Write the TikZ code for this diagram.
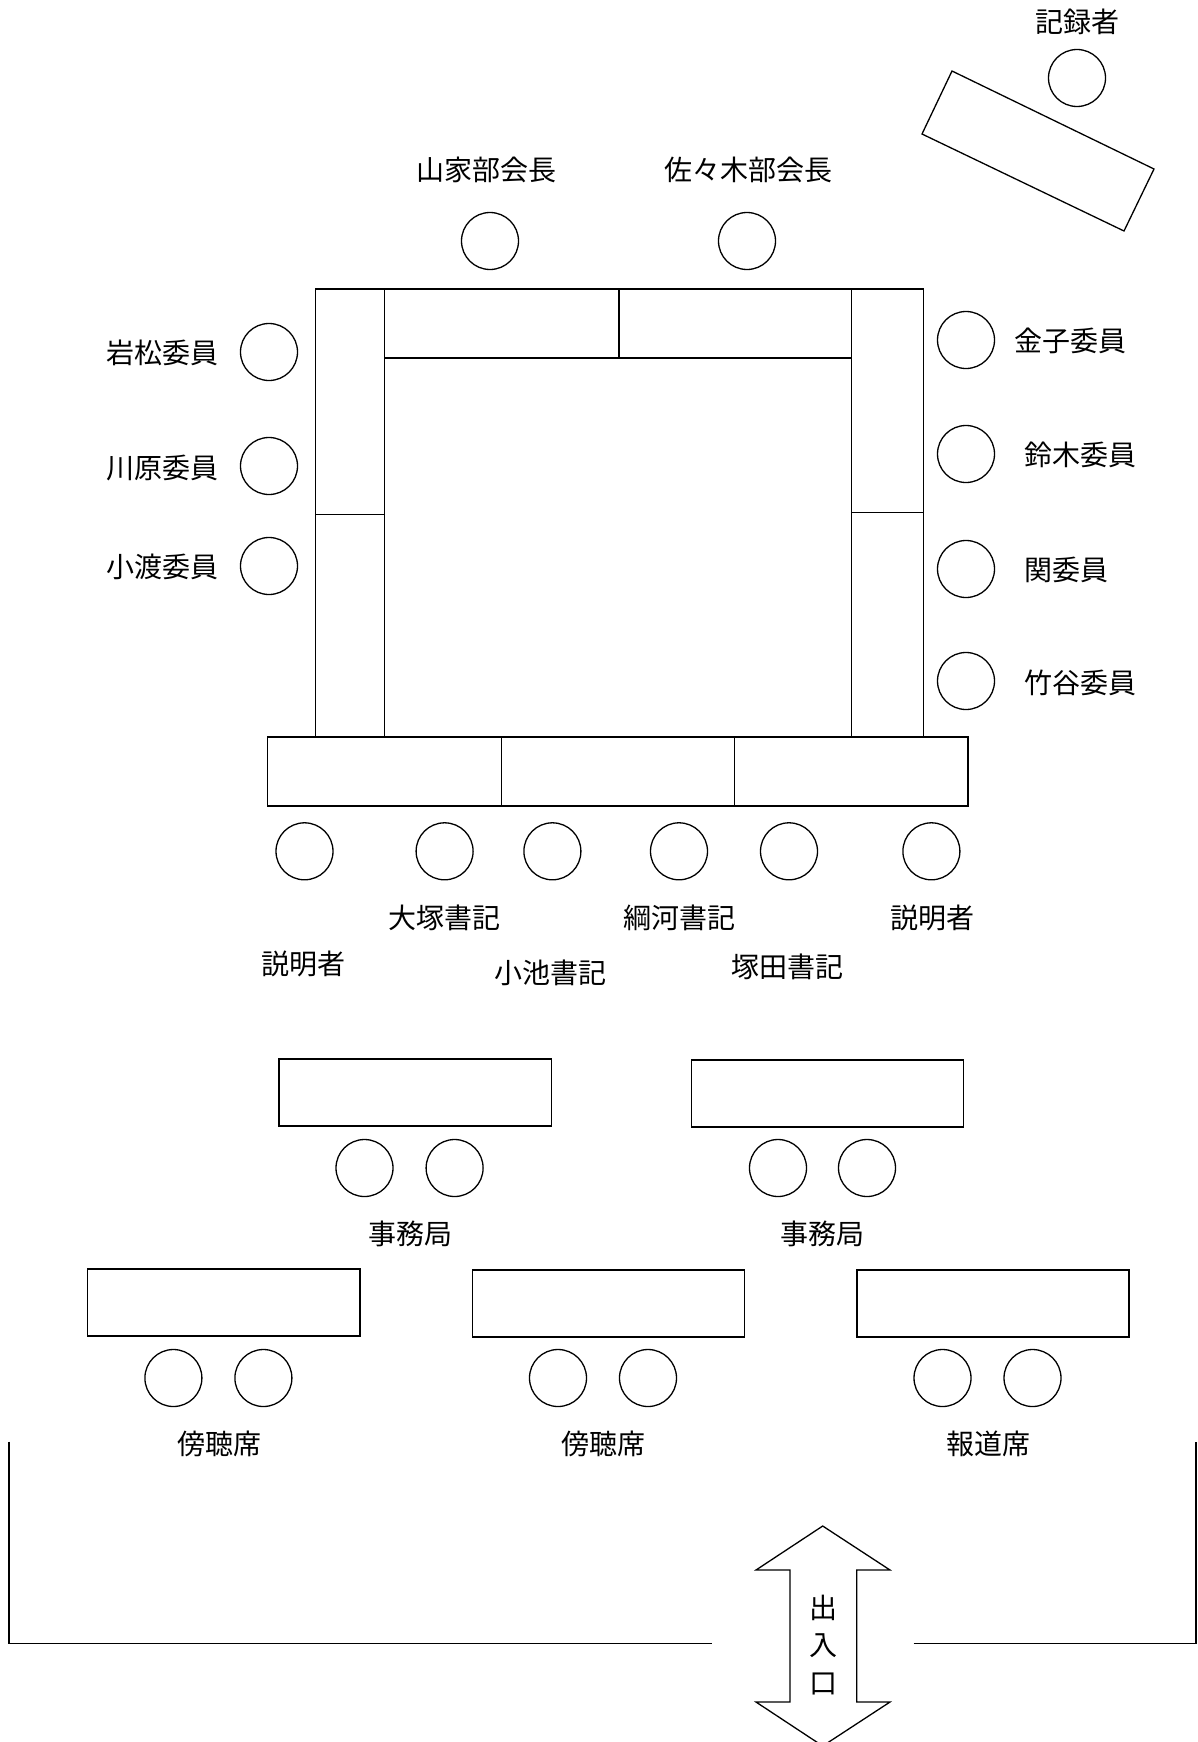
\documentclass[tikz,border=0pt]{standalone}
\usepackage{fontspec}
\setmainfont{Noto Sans CJK JP}
\begin{document}
\begin{tikzpicture}[x=1pt,y=-1pt,line width=1.3pt,
  seat/.style={draw,circle,minimum size=57pt,inner sep=0pt},
  lbl/.style={font=\fontsize{28}{32}\selectfont,inner sep=0pt},
  desk/.style={draw}]
\useasboundingbox (0,0) rectangle (1197,1742);
% recorder
\node[lbl] (rec) at (1077,22) {記録者};
\node[seat] (recs) at (1077,78) {};
\draw (952,71) -- (1154,169) -- (1124,231) -- (922,134) -- cycle;
% main table
\draw[desk] (315.6,289) rectangle (923.6,737);
\draw (384.6,289) -- (384.6,737);
\draw (851.3,289) -- (851.3,737);
\draw (384.6,358) -- (851.3,358);
\draw (619,289) -- (619,358);
\draw (315.6,514.6) -- (384.6,514.6);
\draw (851.3,512.4) -- (923.6,512.4);
\draw[desk] (267.8,737) rectangle (968,806);
\draw (501.2,737) -- (501.2,806);
\draw (734.6,737) -- (734.6,806);
% top seats
\node[lbl] (yl) at (486,170) {山家部会長};
\node[seat] (ys) at (490,241) {};
\node[lbl] (sl) at (748,170) {佐々木部会長};
\node[seat] (ss) at (747,241) {};
% left seats
\node[seat] (l1) at (269,352) {};
\node[seat] (l2) at (269,466) {};
\node[seat] (l3) at (269,566) {};
\node[lbl] (l1t) at (162,353) {岩松委員};
\node[lbl] (l2t) at (162,468) {川原委員};
\node[lbl] (l3t) at (162,567) {小渡委員};
% right seats
\node[seat] (r1) at (966,340) {};
\node[seat] (r2) at (966,454) {};
\node[seat] (r3) at (966,569) {};
\node[seat] (r4) at (966,681) {};
\node[lbl] (r1t) at (1070,341) {金子委員};
\node[lbl] (r2t) at (1080,455) {鈴木委員};
\node[lbl] (r3t) at (1066,570) {関委員};
\node[lbl] (r4t) at (1080,683) {竹谷委員};
% front seats
\node[seat] (f1) at (304.5,851.3) {};
\node[seat] (f2) at (444.6,851.3) {};
\node[seat] (f3) at (552.4,851.3) {};
\node[seat] (f4) at (679,851.3) {};
\node[seat] (f5) at (789,851.3) {};
\node[seat] (f6) at (931.4,851.3) {};
\node[lbl] (f2t) at (444.6,918) {大塚書記};
\node[lbl] (f4t) at (679,918) {綱河書記};
\node[lbl] (f6t) at (932.5,918) {説明者};
\node[lbl] (f1t) at (303.4,964) {説明者};
\node[lbl] (f3t) at (550,973) {小池書記};
\node[lbl] (f5t) at (787,967) {塚田書記};
% office
\draw[desk] (279,1059) rectangle (551.3,1126);
\draw[desk] (691.3,1060) rectangle (963.6,1127);
\node[seat] (o1) at (364.5,1168) {};
\node[seat] (o2) at (454.6,1168) {};
\node[seat] (o3) at (778,1168) {};
\node[seat] (o4) at (867,1168) {};
\node[lbl] (o1t) at (410,1234) {事務局};
\node[lbl] (o2t) at (822.4,1234) {事務局};
% gallery
\draw[desk] (87.8,1269) rectangle (360,1336);
\draw[desk] (472.3,1270) rectangle (744.6,1337);
\draw[desk] (857,1270) rectangle (1129,1337);
\node[seat] (g1) at (173.4,1378) {};
\node[seat] (g2) at (263.4,1378) {};
\node[seat] (g3) at (558,1378) {};
\node[seat] (g4) at (648,1378) {};
\node[seat] (g5) at (942.5,1378) {};
\node[seat] (g6) at (1032.5,1378) {};
\node[lbl] (g1t) at (219,1444) {傍聴席};
\node[lbl] (g2t) at (603.5,1444) {傍聴席};
\node[lbl] (g3t) at (988,1444) {報道席};
% walls
\draw (8.9,1441.5) -- (8.9,1643.8) -- (712.4,1643.8);
\draw (913.6,1643.8) -- (1195.9,1643.8) -- (1195.9,1441.5);
% entrance arrow
\draw (822.7,1526) -- (890,1570) -- (856.7,1570) -- (856.7,1702) -- (890,1702)
  -- (822.7,1746) -- (756,1702) -- (790,1702) -- (790,1570) -- (756,1570) -- cycle;
\node[lbl] (e1) at (823,1608) {出};
\node[lbl] (e2) at (823,1646) {入};
\node[lbl] (e3) at (823,1684) {口};
\end{tikzpicture}
\end{document}
